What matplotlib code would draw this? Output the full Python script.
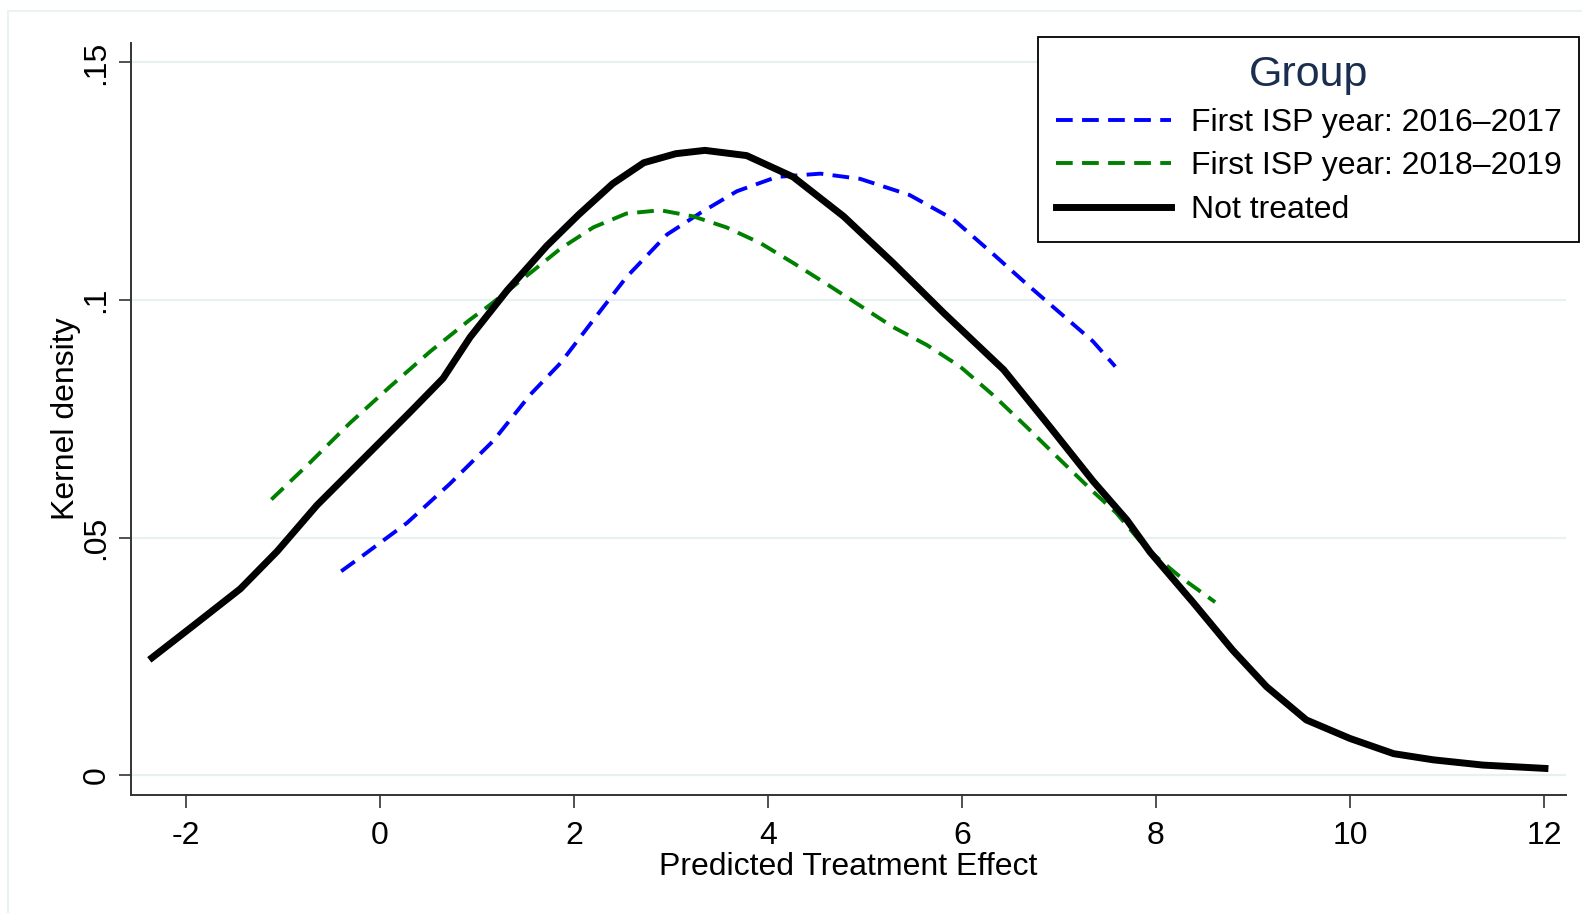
import matplotlib.pyplot as plt
from matplotlib.patches import Rectangle

plt.rcParams['font.family'] = ['Liberation Sans', 'DejaVu Sans']

# Kernel density estimates
x_not_treated = [-2.35, -1.89, -1.44, -1.06, -0.65, -0.17, 0.31, 0.65, 0.93, 1.31,
                 1.72, 2.05, 2.40, 2.72, 3.05, 3.35, 3.78, 4.26, 4.78, 5.29,
                 5.81, 6.43, 6.91, 7.35, 7.70, 7.94, 8.38, 8.79, 9.14, 9.55,
                 10.0, 10.45, 10.86, 11.37, 12.01]
y_not_treated = [0.0247, 0.0320, 0.0392, 0.0471, 0.0568, 0.0666, 0.0764, 0.0835, 0.0922, 0.1020,
                 0.1114, 0.1180, 0.1245, 0.1289, 0.1308, 0.1315, 0.1304, 0.1259, 0.1176, 0.1078,
                 0.0973, 0.0853, 0.0732, 0.0619, 0.0537, 0.0469, 0.0364, 0.0263, 0.0186, 0.0116,
                 0.0077, 0.0045, 0.0032, 0.0021, 0.0014]

x_1617 = [-0.40, -0.17, 0.28, 0.72, 1.17, 1.55, 1.86, 2.20, 2.54, 2.96,
          3.30, 3.68, 4.09, 4.54, 4.95, 5.46, 5.91, 6.32, 6.67, 7.01,
          7.35, 7.58]
y_1617 = [0.0429, 0.0463, 0.0531, 0.0613, 0.0704, 0.0801, 0.0867, 0.0958, 0.1048, 0.1138,
          0.1183, 0.1229, 0.1259, 0.1266, 0.1255, 0.1221, 0.1170, 0.1097, 0.1033, 0.0973,
          0.0913, 0.0860]

x_1819 = [-1.12, -0.72, -0.31, 0.10, 0.52, 0.93, 1.13, 1.55, 1.86, 2.20,
          2.54, 2.89, 3.23, 3.57, 3.92, 4.26, 4.61, 4.95, 5.29, 5.64,
          5.98, 6.32, 6.67, 7.01, 7.35, 7.59, 7.90, 8.25, 8.61]
y_1819 = [0.0580, 0.0658, 0.0741, 0.0817, 0.0892, 0.0959, 0.0989, 0.1057, 0.1108, 0.1153,
          0.1182, 0.1189, 0.1176, 0.1153, 0.1120, 0.1078, 0.1033, 0.0988, 0.0943, 0.0905,
          0.0860, 0.0800, 0.0732, 0.0664, 0.0597, 0.0552, 0.0477, 0.0417, 0.0364]

x_ticks = [-2, 0, 2, 4, 6, 8, 10, 12]
x_ticklabels = ['-2', '0', '2', '4', '6', '8', '10', '12']
y_ticks = [0, 0.05, 0.1, 0.15]
y_ticklabels = ['0', '.05', '.1', '.15']

fig = plt.figure(figsize=(15.82, 9.13), dpi=100)
ax = fig.add_axes([131 / 1582, 1 - 795 / 913, (1566 - 131) / 1582, (795 - 43) / 913])

# light outer frame (Stata graph region)
fig.add_artist(Rectangle((8 / 1582, -0.1), 1.2, (913 - 11) / 913 + 0.1,
                         transform=fig.transFigure, fill=False,
                         edgecolor='#eaf2f4', lw=1.5))

ax.plot(x_1617, y_1617, color='#0000ff', lw=2.8, dashes=(4.3, 2.4),
        label='First ISP year: 2016\u20132017')
ax.plot(x_1819, y_1819, color='#008000', lw=2.8, dashes=(4.3, 2.4),
        label='First ISP year: 2018\u20132019')
ax.plot(x_not_treated, y_not_treated, color='black', lw=5,
        solid_joinstyle='round', label='Not treated')

ax.set_xlim(-2.567, 12.227)
ax.set_ylim(-0.0042, 0.1541)
ax.set_xticks(x_ticks)
ax.set_xticklabels(x_ticklabels)
ax.set_yticks(y_ticks)
ax.set_yticklabels(y_ticklabels, rotation=90, va='center')

ax.grid(axis='y', color='#e9f0f2', lw=1.6)
ax.set_axisbelow(True)
for s in ['top', 'right']:
    ax.spines[s].set_visible(False)
for s in ['left', 'bottom']:
    ax.spines[s].set_color('#333333')
    ax.spines[s].set_linewidth(1.4)
ax.tick_params(axis='both', direction='out', length=9, width=1.2,
               color='#333333', labelsize=23)
ax.tick_params(axis='x', pad=10)
ax.tick_params(axis='y', pad=5)

ax.set_xlabel('Predicted Treatment Effect', fontsize=23, labelpad=0.5)
ax.set_ylabel('Kernel density', fontsize=23, labelpad=0.5)

leg = ax.legend(loc='upper right', bbox_to_anchor=(1579 / 1582, 1 - 37 / 913),
                bbox_transform=fig.transFigure, fontsize=23, title='Group',
                title_fontsize=31, frameon=True, fancybox=False,
                edgecolor='black', framealpha=1, handlelength=3.6,
                handletextpad=0.63, labelspacing=0.42, borderpad=0.55,
                borderaxespad=0)
leg.get_frame().set_linewidth(1.3)
leg.get_title().set_color('#1a2e50')

fig.savefig('out.png', dpi=100)
